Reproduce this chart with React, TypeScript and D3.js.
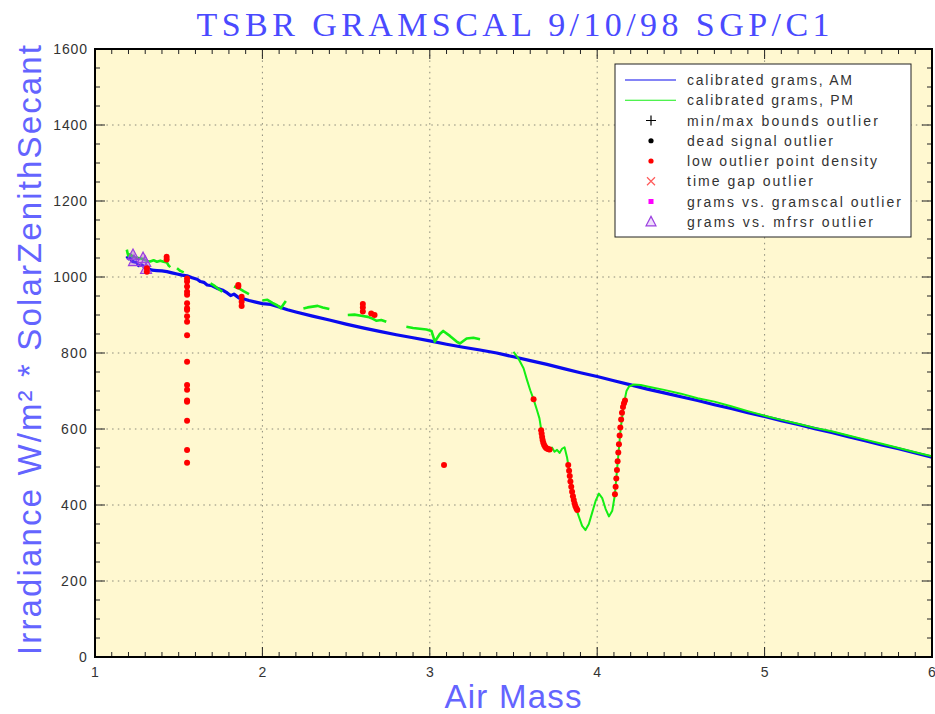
import React from "react";
import * as d3 from "d3";

const title = "TSBR GRAMSCAL 9/10/98 SGP/C1";
const xLabel = "Air Mass";
const yLabel = "Irradiance W/m² * SolarZenithSecant";
const xTicks = [1, 2, 3, 4, 5, 6];
const yTicks = [0, 200, 400, 600, 800, 1000, 1200, 1400, 1600];

const legendLabels = [
  "calibrated grams, AM",
  "calibrated grams, PM",
  "min/max bounds outlier",
  "dead signal outlier",
  "low outlier point density",
  "time gap outlier",
  "grams vs. gramscal outlier",
  "grams vs. mfrsr outlier",
];

// Calibrated grams, AM (air mass, irradiance)
const amSeries: [number, number][] = [
  [1.19, 1055], [1.2, 1048], [1.21, 1050], [1.22, 1042], [1.23, 1040], [1.25, 1038], [1.26, 1030],
  [1.28, 1032], [1.3, 1024], [1.32, 1022], [1.34, 1018], [1.37, 1017], [1.4, 1016], [1.43, 1014],
  [1.46, 1011], [1.49, 1008], [1.52, 1005], [1.55, 1003], [1.58, 998], [1.61, 994], [1.63, 988],
  [1.65, 986], [1.67, 979], [1.7, 977], [1.73, 970], [1.76, 966], [1.79, 958], [1.81, 951],
  [1.83, 955], [1.86, 945], [1.89, 942], [1.92, 938], [1.96, 934], [2.0, 930], [2.05, 928],
  [2.1, 921], [2.15, 914], [2.2, 908], [2.3, 897], [2.4, 887], [2.5, 876], [2.6, 866], [2.7, 857],
  [2.8, 848], [2.9, 840], [3.0, 832], [3.1, 823], [3.2, 815], [3.3, 808], [3.4, 800], [3.5, 790],
  [3.6, 780], [3.7, 770], [3.8, 759], [3.9, 748], [4.0, 738], [4.1, 727], [4.2, 716], [4.3, 705],
  [4.4, 695], [4.5, 685], [4.6, 675], [4.7, 664], [4.8, 654], [4.9, 643], [5.0, 633], [5.1, 622],
  [5.2, 612], [5.3, 601], [5.4, 591], [5.5, 580], [5.6, 569], [5.7, 558], [5.8, 548], [5.9, 537],
  [6.0, 526],
];

// Calibrated grams, PM — separate segments with gaps
const pmSeg1: [number, number][] = [
  [1.19, 1072], [1.195, 1062], [1.2, 1055], [1.21, 1060], [1.23, 1052], [1.26, 1050], [1.29, 1047],
  [1.31, 1042], [1.33, 1041], [1.35, 1044], [1.37, 1040], [1.39, 1043], [1.41, 1040], [1.43, 1038],
  [1.44, 1030], [1.45, 1026],
];
const pmSeg2: [number, number][] = [[1.49, 1023], [1.51, 1016], [1.53, 1012]];
const pmSeg3: [number, number][] = [[1.69, 983], [1.71, 978], [1.73, 971], [1.76, 961]];
const pmSeg4: [number, number][] = [[1.83, 975], [1.86, 970], [1.89, 962], [1.92, 955]];
const pmSeg5: [number, number][] = [[2.0, 938], [2.03, 940], [2.06, 932], [2.09, 925], [2.11, 918], [2.14, 937]];
const pmSeg6: [number, number][] = [[2.245, 917], [2.27, 920], [2.3, 922], [2.33, 924], [2.36, 920], [2.4, 916]];
const pmSeg7: [number, number][] = [
  [2.51, 900], [2.55, 901], [2.59, 898], [2.63, 895], [2.66, 890], [2.68, 885], [2.71, 887], [2.74, 882],
];
const pmSeg8: [number, number][] = [
  [2.86, 869], [2.9, 866], [2.94, 864], [2.98, 862], [3.01, 858], [3.03, 830], [3.06, 850], [3.08, 858],
  [3.12, 845], [3.16, 830], [3.18, 825], [3.22, 838], [3.26, 840], [3.3, 836],
];
const pmSeg9: [number, number][] = [
  [3.5, 803], [3.53, 785], [3.56, 760], [3.58, 730], [3.6, 702], [3.62, 678], [3.64, 650], [3.655, 628],
  [3.665, 600], [3.675, 570], [3.69, 553], [3.71, 548], [3.73, 551], [3.745, 540], [3.76, 545],
  [3.775, 537], [3.79, 548], [3.805, 552], [3.82, 525], [3.835, 485], [3.85, 435], [3.87, 395],
  [3.89, 370], [3.91, 345], [3.93, 334], [3.95, 350], [3.97, 380], [3.99, 410], [4.01, 430],
  [4.03, 418], [4.05, 390], [4.07, 370], [4.09, 385], [4.105, 425], [4.12, 500], [4.14, 600],
  [4.16, 668], [4.175, 700], [4.19, 712], [4.22, 717], [4.26, 716], [4.3, 712], [4.4, 703],
  [4.5, 693], [4.6, 681], [4.7, 672], [4.8, 660], [4.9, 647], [5.0, 635], [5.1, 624], [5.2, 614],
  [5.3, 603], [5.4, 594], [5.5, 583], [5.6, 572], [5.7, 561], [5.8, 550], [5.9, 539], [6.0, 528],
];
const pmSegments = [pmSeg1, pmSeg2, pmSeg3, pmSeg4, pmSeg5, pmSeg6, pmSeg7, pmSeg8, pmSeg9];

// Low outlier point density (red dots)
const lowDensity: [number, number][] = [
  [1.31, 1023], [1.31, 1014], [1.428, 1053], [1.428, 1046],
  [1.55, 996], [1.55, 988], [1.55, 975], [1.55, 961], [1.55, 953], [1.55, 931], [1.55, 918],
  [1.55, 913], [1.55, 897], [1.55, 882], [1.55, 847], [1.55, 777], [1.55, 716], [1.55, 703],
  [1.55, 675], [1.55, 672], [1.55, 622], [1.55, 545], [1.55, 511],
  [1.856, 979], [1.856, 975], [1.876, 948], [1.876, 935], [1.876, 924],
  [2.6, 929], [2.6, 920], [2.6, 909], [2.65, 904], [2.67, 900],
  [3.085, 505], [3.62, 678],
  [3.665, 597], [3.668, 588], [3.671, 579], [3.674, 571], [3.678, 564], [3.683, 558], [3.689, 553],
  [3.695, 550], [3.702, 548], [3.71, 547], [3.716, 546],
  [3.827, 505], [3.832, 490], [3.836, 476], [3.84, 462], [3.845, 448], [3.85, 435], [3.855, 423],
  [3.86, 413], [3.865, 404], [3.87, 397], [3.876, 391], [3.881, 387],
  [4.106, 428], [4.11, 448], [4.114, 470], [4.118, 492], [4.122, 515], [4.126, 538], [4.13, 560],
  [4.134, 583], [4.138, 604], [4.143, 625], [4.148, 643], [4.154, 658], [4.16, 668], [4.166, 675],
];

// Grams vs. MFRSR outlier (purple triangles)
const mfrsrOutliers: [number, number][] = [
  [1.227, 1058], [1.233, 1042], [1.287, 1050], [1.3, 1040], [1.305, 1021],
];

const W = 935;
const H = 714;
const L = 95, R = 932, T = 49, B = 657;

const BLUE_TXT = "#6464ff";

export default function App() {
  const x = d3.scaleLinear().domain([1, 6]).range([L, R]);
  const y = d3.scaleLinear().domain([0, 1600]).range([B, T]);
  const line = d3.line<[number, number]>().x((d) => x(d[0])).y((d) => y(d[1]));

  const xMinor = d3.range(10, 61).map((v) => v / 10);
  const yMinor = d3.range(0, 1601, 50);

  const tri = (cx: number, cy: number, s: number) =>
    `M${cx},${cy - s * 0.6}L${cx + s * 0.55},${cy + s * 0.45}L${cx - s * 0.55},${cy + s * 0.45}Z`;

  const legX = 615, legY = 64, legW = 296, legH = 173;
  const rowY = (i: number) => 80 + i * 20.25;
  const legTextLen = [165, 166, 191, 146, 190, 126, 214, 186];

  return (
    <svg width={W} height={H} style={{ position: "absolute", left: 0, top: 0, background: "#fff" }}
      fontFamily="'Liberation Sans', Arial, sans-serif">
      <defs>
        <clipPath id="plotclip">
          <rect x={L} y={T} width={R - L} height={B - T} />
        </clipPath>
      </defs>
      <rect x={0} y={0} width={W} height={H} fill="#fff" />
      <text x={513} y={36} textAnchor="middle" fontFamily="'Liberation Serif', 'DejaVu Serif', serif"
        fontSize={34} fill="#4a4aff" textLength={633} lengthAdjust="spacing">{title}</text>

      <rect x={L} y={T} width={R - L} height={B - T} fill="#fff8d0" />

      {/* grid */}
      {yTicks.filter((v) => v > 0 && v < 1600).map((v) => (
        <line key={"gy" + v} x1={L} x2={R} y1={y(v)} y2={y(v)} stroke="#8a8a7a" strokeWidth={1} strokeDasharray="1.5,4.2" />
      ))}
      {xTicks.filter((v) => v > 1 && v < 6).map((v) => (
        <line key={"gx" + v} x1={x(v)} x2={x(v)} y1={T} y2={B} stroke="#8a8a7a" strokeWidth={1} strokeDasharray="1.5,4.2" />
      ))}

      {/* minor/major ticks */}
      {xMinor.map((v, i) => {
        const major = i % 10 === 0;
        const len = major ? 10 : 5;
        return (
          <g key={"tx" + i}>
            <line x1={x(v)} x2={x(v)} y1={B} y2={B - len} stroke="#222" strokeWidth={1} />
            <line x1={x(v)} x2={x(v)} y1={T} y2={T + len} stroke="#222" strokeWidth={1} />
          </g>
        );
      })}
      {yMinor.map((v, i) => {
        const major = v % 200 === 0;
        const len = major ? 10 : 5;
        return (
          <g key={"ty" + i}>
            <line x1={L} x2={L + len} y1={y(v)} y2={y(v)} stroke="#222" strokeWidth={1} />
            <line x1={R} x2={R - len} y1={y(v)} y2={y(v)} stroke="#222" strokeWidth={1} />
          </g>
        );
      })}

      <g clipPath="url(#plotclip)">
        <path d={line(amSeries) || ""} fill="none" stroke="#0a0aee" strokeWidth={3.2} strokeLinejoin="round" />
        {pmSegments.map((seg, i) => (
          <path key={"pm" + i} d={line(seg) || ""} fill="none" stroke="#14ee14"
            strokeWidth={i === pmSegments.length - 1 ? 2 : 2.6} strokeLinejoin="round" />
        ))}
        {mfrsrOutliers.map((d, i) => (
          <path key={"tr" + i} d={tri(x(d[0]), y(d[1]), 10)} fill="rgba(170,90,235,0.45)" stroke="#9b3fe0" strokeWidth={1.2} />
        ))}
        {lowDensity.map((d, i) => (
          <circle key={"rd" + i} cx={x(d[0])} cy={y(d[1])} r={3} fill="#ff0000" />
        ))}
      </g>

      {/* frame */}
      <rect x={L} y={T} width={R - L} height={B - T} fill="none" stroke="#000" strokeWidth={2} />

      {/* tick labels */}
      {xTicks.map((v) => (
        <text key={"xl" + v} x={x(v)} y={677} textAnchor="middle" fontSize={14} fill="#333">{v}</text>
      ))}
      {yTicks.map((v) => (
        <text key={"yl" + v} x={88} y={y(v) + 5} textAnchor="end" fontSize={14} fill="#333"
          letterSpacing={v >= 1000 ? 0.9 : 1.2}>{v}</text>
      ))}

      {/* axis labels */}
      <text x={513} y={708} textAnchor="middle" fontSize={33} fill={BLUE_TXT} textLength={137} lengthAdjust="spacing">{xLabel}</text>
      <text transform="translate(41,350) rotate(-90)" textAnchor="middle" fontSize={33} fill={BLUE_TXT}
        textLength={610} lengthAdjust="spacing">{yLabel}</text>

      {/* legend */}
      <rect x={legX} y={legY} width={legW} height={legH} fill="#fff" stroke="#222" strokeWidth={1} />
      <line x1={625} x2={676} y1={rowY(0)} y2={rowY(0)} stroke="#0a0aee" strokeWidth={1.2} />
      <line x1={625} x2={676} y1={rowY(1)} y2={rowY(1)} stroke="#14ee14" strokeWidth={1.2} />
      <path d={`M${651 - 5},${rowY(2)}H${651 + 5}M${651},${rowY(2) - 5}V${rowY(2) + 5}`} stroke="#000" strokeWidth={1.2} />
      <circle cx={651} cy={rowY(3)} r={2.6} fill="#000" />
      <circle cx={651} cy={rowY(4)} r={2.6} fill="#ff0000" />
      <path d={`M${651 - 4},${rowY(5) - 4}L${651 + 4},${rowY(5) + 4}M${651 + 4},${rowY(5) - 4}L${651 - 4},${rowY(5) + 4}`} stroke="#ff5a5a" strokeWidth={1.2} />
      <rect x={651 - 2.5} y={rowY(6) - 2.5} width={5} height={5} fill="#ff00ff" />
      <path d={tri(651, rowY(7), 9)} fill="rgba(170,90,235,0.2)" stroke="#9b3fe0" strokeWidth={1.2} />
      {legendLabels.map((t, i) => (
        <text key={"lg" + i} x={687} y={rowY(i) + 5} fontSize={14} fill="#333"
          textLength={legTextLen[i]} lengthAdjust="spacing">{t}</text>
      ))}
    </svg>
  );
}
